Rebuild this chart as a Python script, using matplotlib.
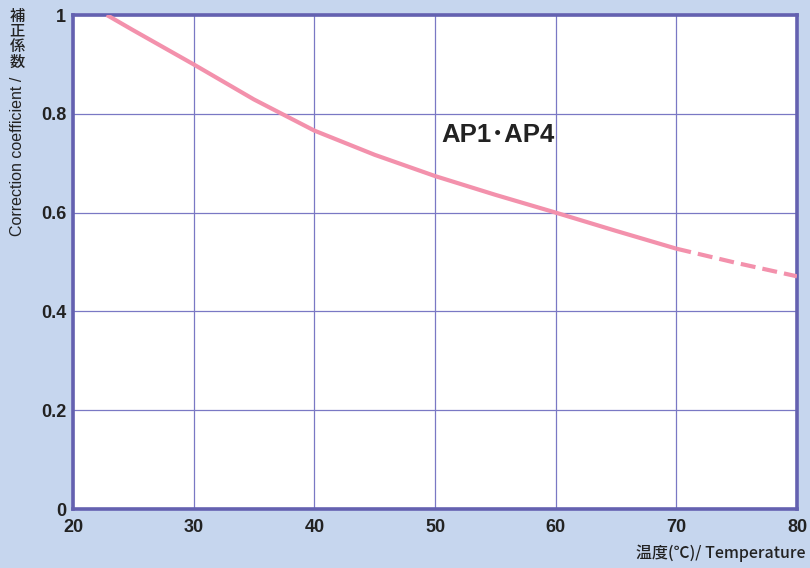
import matplotlib
matplotlib.use("Agg")
import matplotlib.pyplot as plt

# Data
temp_solid = [22.8, 25, 30, 35, 40, 45, 50, 55, 60, 65, 70]
coef_solid = [1.0, 0.969, 0.900, 0.829, 0.766, 0.717, 0.674, 0.636, 0.600, 0.563, 0.527]
temp_dash = [70, 75, 80]
coef_dash = [0.527, 0.498, 0.471]
x_ticks = [20, 30, 40, 50, 60, 70, 80]
y_ticks = [0, 0.2, 0.4, 0.6, 0.8, 1.0]
y_tick_labels = ["0", "0.2", "0.4", "0.6", "0.8", "1"]
series_label = "AP1･AP4"

BG = "#c6d6ee"
FRAME = "#6461b0"
GRID = "#7a78c4"
PINK = "#f391ac"
TXT = "#222222"
FAM = ["Liberation Sans", "Noto Sans CJK JP", "DejaVu Sans"]

fig = plt.figure(figsize=(8.1, 5.68), dpi=100, facecolor=BG)
ax = fig.add_axes([73/810, 1-509/568, (797-73)/810, (509-15)/568])
ax.set_facecolor("white")

ax.plot(temp_solid, coef_solid, color=PINK, lw=3.0, solid_capstyle="butt",
        solid_joinstyle="round", zorder=3)
ax.plot(temp_dash, coef_dash, color=PINK, lw=3.0, dashes=(3.6, 1.7), zorder=3)

ax.set_xlim(20, 80)
ax.set_ylim(0, 1)
ax.set_xticks(x_ticks)
ax.set_yticks(y_ticks)
ax.set_yticklabels(y_tick_labels)
ax.grid(True, color=GRID, lw=0.9)
ax.set_axisbelow(True)
for s in ax.spines.values():
    s.set_color(FRAME)
    s.set_linewidth(2.6)
ax.tick_params(length=0, pad=5, labelcolor=TXT)
for lab in ax.get_xticklabels() + ax.get_yticklabels():
    lab.set_fontfamily(FAM)
    lab.set_fontsize(13)
    lab.set_fontweight("bold")
ax.tick_params(axis="x", pad=7)

ax.text(441/810, 1-135/568, series_label, transform=fig.transFigure,
        fontsize=18.5, family=FAM, color=TXT, va="center", ha="left", fontweight="bold")

fig.text(805/810, 1-553/568, "温度(℃)/ Temperature", fontsize=11.5,
         family=["Noto Sans CJK JP", "DejaVu Sans"], color=TXT, ha="right", va="center",
         fontweight="medium")

for i, ch in enumerate("補正係数"):
    fig.text(17/810, 1-(16+15.5*i)/568, ch, fontsize=11, family=["Noto Sans CJK JP"],
             color=TXT, ha="center", va="center", fontweight="medium")
fig.text(18/810, 1-77/568, "Correction coefficient /", fontsize=11.5, family=FAM,
         color=TXT, rotation=90, ha="center", va="top")

fig.savefig("out.png", dpi=100, facecolor=BG)
